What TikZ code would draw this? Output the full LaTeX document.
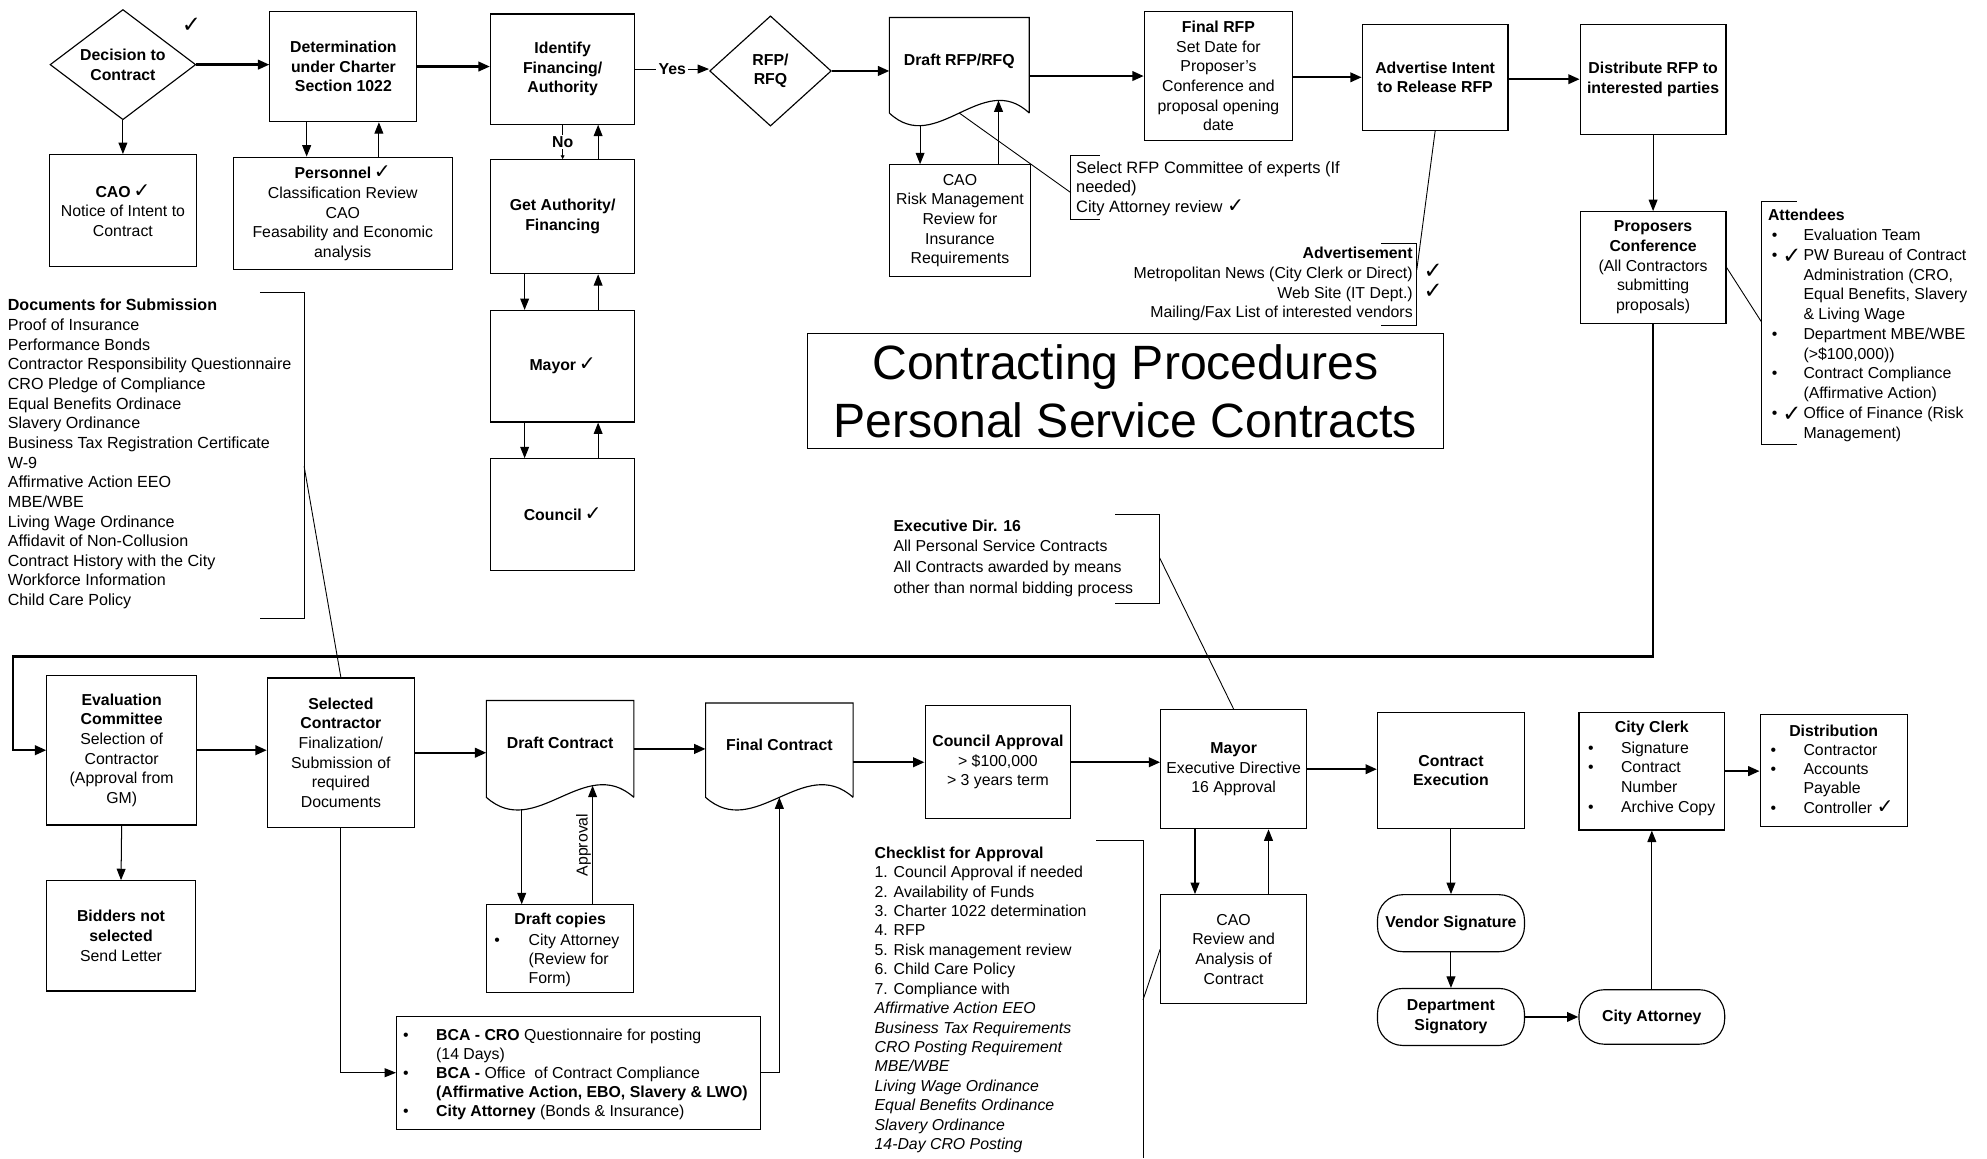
\documentclass[tikz,border=0pt]{standalone}
\usepackage{fontspec}
\setmainfont{Liberation Sans}
\newfontfamily\ckfont{DejaVu Sans}
\usetikzlibrary{arrows.meta,shapes.geometric,calc}
\newcommand\myfs{\fontsize{12.5}{15.5}\selectfont}
\newcommand\ck{{\ckfont\fontsize{16}{14}\selectfont ✓}}
\newcommand\bul{\makebox[26pt][l]{•}}
\newcommand\abul{\makebox[25pt][l]{•}}
\newcommand\ind{\hspace*{26pt}}
\begin{document}
\begin{tikzpicture}[x=1pt,y=-1pt,
  bd/.style={line width=0.9pt},
  box/.style={draw, line width=0.9pt, align=center, inner sep=2pt, font=\myfs},
  dia/.style={draw, diamond, line width=0.9pt, align=center, inner sep=0pt, font=\myfs\bfseries},
  stad/.style={box, rounded corners=20pt, font=\myfs\bfseries},
  txt/.style={align=left, inner sep=0pt, font=\myfs},
  arr/.style={line width=0.8pt, -{Triangle[length=9pt,width=7pt]}},
  tarr/.style={line width=1.8pt, -{Triangle[length=9pt,width=7.5pt]}},
  ln/.style={line width=0.7pt},
  brk/.style={line width=0.8pt},
  cks/.style={font=\ckfont\fontsize{18}{18}\selectfont, inner sep=0pt}]
\fill[white] (0,0) rectangle (1568,914);
\useasboundingbox (0,0) rectangle (1568,914);

% ---------------- top row ----------------
\node[dia, minimum width=115, minimum height=87, aspect=1.32] (dec) at (97,51) {Decision to\\Contract};
\node[cks] (ck1) at (151,20) {✓};
\node[box, minimum width=116, minimum height=88] (cao1) at (97,166) {\textbf{CAO}\,\ck\\Notice of Intent to\\Contract};
\node[box, minimum width=116, minimum height=87, font=\myfs\bfseries] (det) at (271,52.5) {Determination\\under Charter\\Section 1022};
\node[box, minimum width=173, minimum height=89] (pers) at (270.5,168.5) {\textbf{Personnel}\,\ck\\Classification Review\\CAO\\Feasability and Economic\\analysis};
\node[box, minimum width=114, minimum height=87, font=\myfs\bfseries] (ident) at (444,54.5) {Identify\\Financing/\\Authority};
\node[dia, minimum width=96, minimum height=87, aspect=1.1] (rfpd) at (608,56) {RFP/\\RFQ};
\node[font=\myfs\bfseries, minimum width=110, minimum height=75, inner sep=0pt] (draftrfp) at (757,51.5) {\raisebox{0pt}[0pt][0pt]{Draft RFP/RFQ}};
\draw[bd] (draftrfp.south east) -- (draftrfp.north east) -- (draftrfp.north west) -- (draftrfp.south west)
  .. controls +(36.7,34.6) and +(-36.7,-34.6) .. (draftrfp.south east)
  coordinate[pos=0.22] (rw1) coordinate[pos=0.5] (rw2) coordinate[pos=0.78] (rw3);
\node[box, minimum width=117, minimum height=102] (final) at (961.5,60) {\textbf{Final RFP}\\Set Date for\\Proposer's\\Conference and\\proposal opening\\date};
\node[box, minimum width=115, minimum height=84, font=\myfs\bfseries] (adv) at (1132.5,61) {Advertise Intent\\to Release RFP};
\node[box, minimum width=115, minimum height=87, font=\myfs\bfseries] (dist) at (1304.5,62.5) {Distribute RFP to\\interested parties};
\node[box, minimum width=115, minimum height=88] (prop) at (1304.5,211) {\textbf{Proposers}\\\textbf{Conference}\\(All Contractors\\submitting\\proposals)};

\node[box, minimum width=114, minimum height=90, font=\myfs\bfseries] (getauth) at (444,171) {Get Authority/\\Financing};
\node[box, minimum width=114, minimum height=88] (mayor1) at (444,289) {\textbf{Mayor}\,\ck};
\node[box, minimum width=114, minimum height=88] (council) at (444,406) {\textbf{Council}\,\ck};
\node[box, minimum width=111, minimum height=88] (caorisk) at (757.5,174) {CAO\\Risk Management\\Review for\\Insurance\\Requirements};

% top row arrows
\draw[tarr] (dec.east) -- (dec.east -| det.west);
\draw[tarr] (det.east) -- (det.east -| ident.west);
\draw[arr] (ident.east) -- node[fill=white, inner sep=2pt, font=\myfs\bfseries]{Yes} (ident.east -| rfpd.west);
\draw[tarr] (rfpd.east) -- (rfpd.east -| draftrfp.west);
\draw[tarr] (final.west -| draftrfp.east) -- (final.west);
\draw[tarr] (adv.west -| final.east) -- (adv.west);
\draw[tarr] (dist.west -| adv.east) -- (dist.west);
\draw[arr] (dist.south) -- (prop.north);
\draw[arr] (dec.south) -- (cao1.north);
\draw[arr] ([xshift=-29pt]det.south) -- ([xshift=-29pt]det.south |- pers.north);
\draw[arr] ([xshift=28pt]det.south |- pers.north) -- ([xshift=28pt]det.south);
\draw[ln, -{Triangle[length=3pt,width=3pt]}] (ident.south) -- node[fill=white, inner sep=1.5pt, font=\myfs\bfseries]{No} (getauth.north);
\draw[arr] ([xshift=28pt]getauth.north) -- ([xshift=28pt]ident.south);
\draw[arr] ([xshift=-30pt]getauth.south) -- ([xshift=-30pt]mayor1.north);
\draw[arr] ([xshift=28pt]mayor1.north) -- ([xshift=28pt]getauth.south);
\draw[arr] ([xshift=-30pt]mayor1.south) -- ([xshift=-30pt]council.north);
\draw[arr] ([xshift=28pt]council.north) -- ([xshift=28pt]mayor1.south);
\draw[arr] (rw1) -- (rw1 |- caorisk.north);
\draw[arr] (rw3 |- caorisk.north) -- (rw3);

% select RFP note
\node[txt, anchor=north west, font=\fontsize{13}{15.5}\selectfont] (selrfp) at (849,127) {Select RFP Committee of experts (If\\needed)\\City Attorney review \ck};
\draw[brk] (868,123) -- (845,123) -- (845,173) -- (868,173);
\coordinate (selM) at (845,152);
\draw[ln] (rw2) -- (selM);

% advertisement note
\node[txt, anchor=north east, align=right] (advt) at (1115,195) {\textbf{Advertisement}\\Metropolitan News (City Clerk or Direct)\\Web Site (IT Dept.)\\Mailing/Fax List of interested vendors};
\draw[brk] (1090,192) -- (1118,192) -- (1118,257) -- (1090,257);
\node[cks] (ck2) at (1131,214) {✓};
\node[cks] (ck3) at (1131,230) {✓};
\coordinate (advM) at (1118,213);
\draw[ln] (adv.south) -- (advM);

% title
\node[draw, line width=0.9pt, minimum width=502, minimum height=91, align=center, inner sep=0pt, font=\fontsize{38}{46}\selectfont] (title) at (888,308.5) {Contracting Procedures\\Personal Service Contracts};

% attendees
\node[txt, anchor=north west, font=\fontsize{12.5}{15.6}\selectfont] (att) at (1395,165) {\textbf{Attendees}\\
\hspace*{3pt}\abul Evaluation Team\\
\hspace*{3pt}\abul PW Bureau of Contract\\
\hspace*{28pt}Administration (CRO,\\
\hspace*{28pt}Equal Benefits, Slavery\\
\hspace*{28pt}\& Living Wage\\
\hspace*{3pt}\abul Department MBE/WBE\\
\hspace*{28pt}(>\$100,000))\\
\hspace*{3pt}\abul Contract Compliance\\
\hspace*{28pt}(Affirmative Action)\\
\hspace*{3pt}\abul Office of Finance (Risk\\
\hspace*{28pt}Management)};
\draw[brk] (1418,159) -- (1390,159) -- (1390,351) -- (1418,351);
\node[cks] (ck4) at (1414,202) {✓};
\node[cks] (ck5) at (1414,327) {✓};
\coordinate (attM) at (1390,254);
\draw[ln] (prop.east) -- (attM);

% documents note
\node[txt, anchor=north west, font=\fontsize{12.7}{15.5}\selectfont] (docs) at (6,236) {\textbf{Documents for Submission}\\Proof of Insurance\\Performance Bonds\\Contractor Responsibility Questionnaire\\CRO Pledge of Compliance\\Equal Benefits Ordinace\\Slavery Ordinance\\Business Tax Registration Certificate\\W-9\\Affirmative Action EEO\\MBE/WBE\\Living Wage Ordinance\\Affidavit of Non-Collusion\\Contract History with the City\\Workforce Information\\Child Care Policy};
\draw[brk] (205,231) -- (240,231) -- (240,488) -- (205,488);
\coordinate (docsM) at (240,368);

% executive dir note
\node[txt, anchor=north west, font=\fontsize{12.5}{16.3}\selectfont] (exd) at (705,410) {\textbf{Executive Dir. 16}\\All Personal Service Contracts\\All Contracts awarded by means\\other than normal bidding process};
\draw[brk] (880,406) -- (915,406) -- (915,476) -- (880,476);
\coordinate (exdM) at (915,440);

% ---------------- bottom row ----------------
\node[box, minimum width=118, minimum height=118] (eval) at (96,592) {\textbf{Evaluation}\\\textbf{Committee}\\Selection of\\Contractor\\(Approval from\\GM)};
\node[box, minimum width=116, minimum height=118] (selc) at (269,594) {\textbf{Selected}\\\textbf{Contractor}\\Finalization/\\Submission of\\required\\Documents};
\node[font=\myfs\bfseries, minimum width=116, minimum height=76, inner sep=0pt] (draftc) at (442,591) {\raisebox{0pt}[0pt][0pt]{Draft Contract}};
\draw[bd] (draftc.south east) -- (draftc.north east) -- (draftc.north west) -- (draftc.south west)
  .. controls +(38.7,34.6) and +(-38.7,-34.6) .. (draftc.south east)
  coordinate[pos=0.24] (dw1) coordinate[pos=0.72] (dw2);
\node[font=\myfs\bfseries, minimum width=116, minimum height=74, inner sep=0pt] (finalc) at (615,592) {\raisebox{0pt}[0pt][0pt]{Final Contract}};
\draw[bd] (finalc.south east) -- (finalc.north east) -- (finalc.north west) -- (finalc.south west)
  .. controls +(38.7,34.6) and +(-38.7,-34.6) .. (finalc.south east)
  coordinate[pos=0.5] (fw);
\node[box, minimum width=115, minimum height=89] (council2) at (787.5,601.5) {\textbf{Council Approval}\\> \$100,000\\> 3 years term};
\node[box, minimum width=115, minimum height=94] (mayor2) at (973.5,607) {\textbf{Mayor}\\Executive Directive\\16 Approval};
\node[box, minimum width=116, minimum height=92, font=\myfs\bfseries] (cexec) at (1145,608) {Contract\\Execution};
\node[box, minimum width=115, minimum height=93] (clerk) at (1303.5,608.5) {};
\node[font=\myfs\bfseries, inner sep=0pt] (clerkH) at (1303.5,575) {City Clerk};
\node[txt, anchor=north west, font=\fontsize{12.5}{15.7}\selectfont] (clerkL) at (1253,585) {\bul Signature\\\bul Contract\\\ind Number\\\bul Archive Copy};
\node[box, minimum width=116, minimum height=88] (distr) at (1447,608) {};
\node[font=\myfs\bfseries, inner sep=0pt] (distrH) at (1447,577) {Distribution};
\node[txt, anchor=north west, font=\fontsize{12.5}{15.3}\selectfont] (distrL) at (1397,587) {\bul Contractor\\\bul Accounts\\\ind Payable\\\bul Controller \ck};

\node[box, minimum width=117, minimum height=87] (bidders) at (95.5,738.5) {\textbf{Bidders not}\\\textbf{selected}\\Send Letter};
\node[box, minimum width=116, minimum height=69] (dcopies) at (442,748.5) {};
\node[font=\myfs\bfseries, inner sep=0pt] (dcopiesH) at (442,726) {Draft copies};
\node[txt, anchor=north west, font=\fontsize{12.5}{15}\selectfont] (dcopiesL) at (390,737) {\makebox[27pt][l]{•}City Attorney\\\hspace*{27pt}(Review for\\\hspace*{27pt}Form)};
\node[box, minimum width=287, minimum height=89] (bca) at (456.5,846.5) {};
\node[txt, anchor=north west, font=\fontsize{12.5}{15}\selectfont] (bcaL) at (318,812) {\bul\textbf{BCA - CRO} Questionnaire for posting\\\ind(14 Days)\\\bul\textbf{BCA -} Office\ \ of Contract Compliance\\\ind\textbf{(Affirmative Action, EBO, Slavery \& LWO)}\\\bul\textbf{City Attorney} (Bonds \& Insurance)};
\node[box, minimum width=115, minimum height=86] (caorev) at (973.5,749) {CAO\\Review and\\Analysis of\\Contract};
\node[stad, minimum width=116, minimum height=45] (vendor) at (1145,728.5) {Vendor Signature};
\node[stad, minimum width=116, minimum height=45] (dept) at (1145,802.5) {Department\\Signatory};
\node[stad, minimum width=115, minimum height=43] (cityatt) at (1303.5,802.5) {City Attorney};

% checklist note
\node[txt, anchor=north west, font=\fontsize{12.5}{15.33}\selectfont] (chk) at (690,668) {\textbf{Checklist for Approval}\\1. Council Approval if needed\\2. Availability of Funds\\3. Charter 1022 determination\\4. RFP\\5. Risk management review\\6. Child Care Policy\\7. Compliance with\\\textit{Affirmative Action EEO}\\\textit{Business Tax Requirements}\\\textit{CRO Posting Requirement}\\\textit{MBE/WBE}\\\textit{Living Wage Ordinance}\\\textit{Equal Benefits Ordinance}\\\textit{Slavery Ordinance}\\\textit{14-Day CRO Posting}};
\draw[brk] (865,663) -- (902,663) -- (902,914);
\coordinate (chkM) at (902,789);

% bottom connectors
\coordinate (loopR) at (1304.5,518);
\coordinate (loopL) at (10,518);
\draw[tarr] (prop.south) -- (loopR) -- (loopL) |- (eval.west);
\draw[tarr] (eval.east) -- (eval.east -| selc.west);
\draw[tarr] (selc.east) -- (selc.east -| draftc.west);
\draw[tarr] (draftc.east) -- (draftc.east -| finalc.west);
\draw[tarr] (council2.west -| finalc.east) -- (council2.west);
\draw[tarr] (council2.east) -- (council2.east -| mayor2.west);
\draw[tarr] (mayor2.east) -- (mayor2.east -| cexec.west);
\draw[tarr] (clerk.east) -- (clerk.east -| distr.west);
\draw[arr] (eval.south) -- (bidders.north);
\draw[arr] (dw1) -- (dw1 |- dcopies.north);
\draw[arr] (dw2 |- dcopies.north) -- node[rotate=90, anchor=south, inner sep=1pt, font=\myfs]{Approval} (dw2);
\draw[arr] (selc.south) |- (bca.west);
\draw[arr] (bca.east) -| (fw);
\draw[arr] ([xshift=-30.5pt]mayor2.south) -- ([xshift=-30.5pt]caorev.north);
\draw[arr] ([xshift=27.5pt]caorev.north) -- ([xshift=27.5pt]mayor2.south);
\draw[arr] (cexec.south) -- (vendor.north);
\draw[arr] (vendor.south) -- (dept.north);
\draw[tarr] (dept.east) -- (dept.east -| cityatt.west);
\draw[arr] (cityatt.north) -- (clerk.south);
\draw[ln] (docsM) -- (selc.north);
\draw[ln] (exdM) -- (mayor2.north);
\draw[ln] (chkM) -- (caorev.west);
\end{tikzpicture}
\end{document}
